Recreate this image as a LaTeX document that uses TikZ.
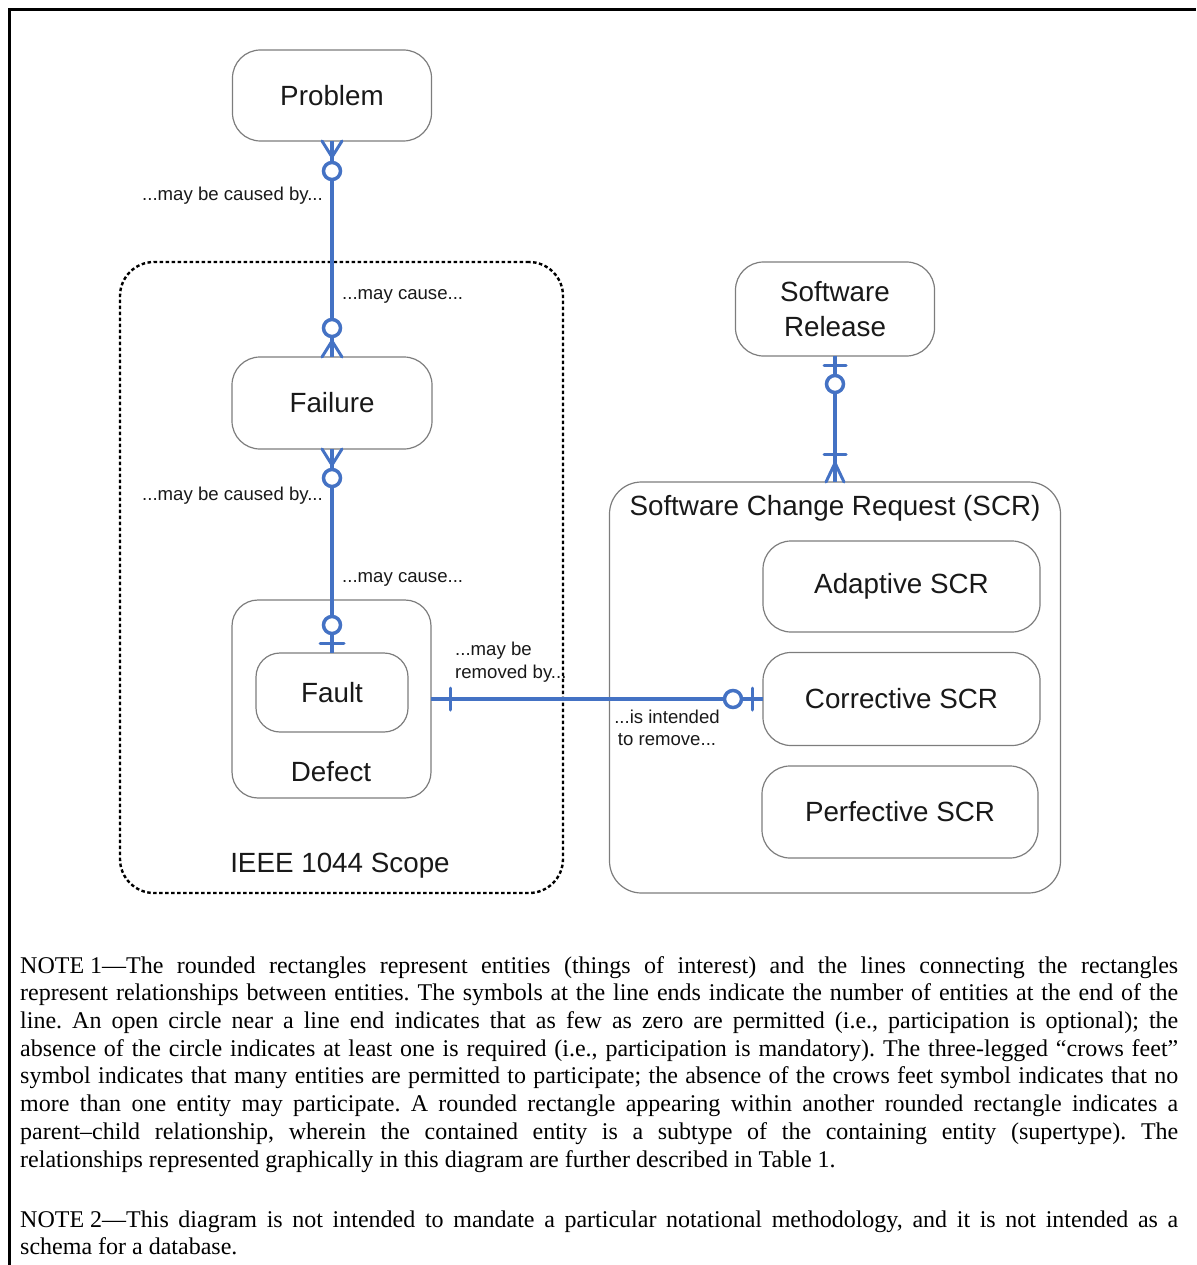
\documentclass[tikz,border=0pt]{standalone}
\usepackage{fontspec}
\setmainfont{Liberation Serif}
\newfontfamily\diagfont{Liberation Sans}
\usetikzlibrary{calc}
\definecolor{relblue}{RGB}{68,114,196}
\definecolor{boxgray}{RGB}{125,125,125}
\definecolor{inkc}{RGB}{25,25,25}

\begin{document}
\begin{tikzpicture}[x=1pt,y=-1pt,
  entity/.style={draw=boxgray, line width=1.2pt, rounded corners=28pt, inner sep=0pt, outer sep=0pt,
    font=\diagfont\fontsize{27.8}{35}\selectfont, text=inkc, align=center},
  container/.style={draw=boxgray, line width=1.2pt, rounded corners=32pt, inner sep=0pt, outer sep=0pt},
  scopebox/.style={draw=black, line width=2.4pt, dash pattern=on 3.5pt off 2.5pt, rounded corners=34pt,
    inner sep=0pt, outer sep=0pt},
  boxlabel/.style={font=\diagfont\fontsize{27.8}{35}\selectfont, text=inkc, inner sep=0pt},
  rolelabel/.style={font=\diagfont\fontsize{18.6}{22.5}\selectfont, text=inkc, inner sep=0pt},
  rel/.style={draw=relblue, line width=3.5pt},
  prong/.style={draw=relblue, line width=3pt, line cap=round, line join=round},
  ring/.style={draw=relblue, line width=3.5pt, fill=white},
  notetext/.style={anchor=north west, inner sep=0pt, text width=1158pt, align=justify},
]
\useasboundingbox (0,0) rectangle (1196,1265);

% page frame (left and top rules)
\draw[line width=2.7pt] (9.7,1265) -- (9.7,9.7) -- (1196,9.7);

% scope and container boxes
\node[scopebox, minimum width=443pt, minimum height=631pt] (scope) at (341.5,577.5) {};
\node[boxlabel] (scopelbl) at (340,866) {IEEE 1044 Scope};

\node[container, minimum width=451pt, minimum height=411pt] (scr) at (835,687.5) {};
\node[boxlabel] (scrlbl) at (835,508) {Software Change Request (SCR)};

% entities
\node[entity, minimum width=199pt, minimum height=91pt] (problem) at (332,95.5) {Problem};
\node[entity, minimum width=200pt, minimum height=92pt] (failure) at (332,403) {Failure};
\node[container, rounded corners=26pt, minimum width=199pt, minimum height=198pt] (defect) at (331.5,699) {};
\node[boxlabel] (defectlbl) at (331,772) {Defect};
\node[entity, rounded corners=24pt, minimum width=152pt, minimum height=79pt] (fault) at (332,692.5) {Fault};
\node[entity, minimum width=199pt, minimum height=94pt] (release) at (835,309) {Software\\Release};
\node[entity, minimum width=277pt, minimum height=91pt] (adaptive) at (901.5,586.5) {Adaptive SCR};
\node[entity, minimum width=277pt, minimum height=93pt] (corrective) at (901.5,699) {Corrective SCR};
\node[entity, minimum width=276pt, minimum height=92pt] (perfective) at (900,812) {Perfective SCR};

% relationship lines
\draw[rel] (problem.south) -- (failure.north);
\draw[rel] (failure.south) -- (fault.north);
\draw[rel] (release.south) -- (scr.north);
\draw[rel] (defect.east) -- (corrective.west);

% Problem end: zero or many
\draw[prong] ($(problem.south)+(-10,0)$) -- ($(problem.south)+(0,16)$) -- ($(problem.south)+(10,0)$);
\draw[ring] ($(problem.south)+(0,30)$) circle[radius=8.5pt];
% Failure end (upper): zero or many
\draw[prong] ($(failure.north)+(-10,0)$) -- ($(failure.north)+(0,-16)$) -- ($(failure.north)+(10,0)$);
\draw[ring] ($(failure.north)+(0,-29)$) circle[radius=8.5pt];
% Failure end (lower): zero or many
\draw[prong] ($(failure.south)+(-10,0)$) -- ($(failure.south)+(0,16)$) -- ($(failure.south)+(10,0)$);
\draw[ring] ($(failure.south)+(0,29)$) circle[radius=8.5pt];
% Fault end: zero or one
\draw[ring] ($(fault.north)+(0,-28)$) circle[radius=8.5pt];
\draw[prong] ($(fault.north)+(-12,-10)$) -- ($(fault.north)+(12,-10)$);
% Software Release end: zero or one
\draw[prong] ($(release.south)+(-11,9)$) -- ($(release.south)+(11,9)$);
\draw[ring] ($(release.south)+(0,28)$) circle[radius=8.5pt];
% SCR end: one or many
\draw[prong] ($(scr.north)+(-11,-28)$) -- ($(scr.north)+(11,-28)$);
\draw[prong] ($(scr.north)+(-9,0)$) -- ($(scr.north)+(0,-19)$) -- ($(scr.north)+(9,0)$);
% Defect end: exactly one
\draw[prong] ($(defect.east)+(19,-11)$) -- ($(defect.east)+(19,11)$);
% Corrective SCR end: zero or one
\draw[prong] ($(corrective.west)+(-11,-11)$) -- ($(corrective.west)+(-11,11)$);
\draw[ring] ($(corrective.west)+(-30,0)$) circle[radius=8.5pt];

% role labels
\node[rolelabel, anchor=east] (r1) at (323,196) {...may be caused by...};
\node[rolelabel, anchor=west] (r2) at (342,296) {...may cause...};
\node[rolelabel, anchor=east] (r3) at (323,496) {...may be caused by...};
\node[rolelabel, anchor=west] (r4) at (342,579) {...may cause...};
\node[rolelabel, anchor=west, align=left] (r5) at (455,662) {...may be\\removed by...};
\node[rolelabel, align=center] (r6) at (667,728) {...is intended\\to remove...};

% explanatory notes
\node[notetext] (note1) at (20,956) {\fontsize{24}{27.7}\selectfont\frenchspacing\spaceskip=0.25em plus 2em minus 0.05em
\mbox{NOTE 1}—The rounded rectangles represent entities (things of interest) and the lines connecting the rectangles\linebreak
represent relationships between entities. The symbols at the line ends indicate the number of entities at the end of the\linebreak
line. An open circle near a line end indicates that as few as zero are permitted (i.e., participation is optional); the\linebreak
absence of the circle indicates at least one is required (i.e., participation is mandatory). The three-legged “crows feet”\linebreak
symbol indicates that many entities are permitted to participate; the absence of the crows feet symbol indicates that no\linebreak
more than one entity may participate. A rounded rectangle appearing within another rounded rectangle indicates a\linebreak
parent–child relationship, wherein the contained entity is a subtype of the containing entity (supertype). The\linebreak
relationships represented graphically in this diagram are further described in Table 1.\par};
\node[notetext] (note2) at (20,1211) {\fontsize{24}{26.5}\selectfont\frenchspacing\spaceskip=0.25em plus 2em minus 0.05em
\mbox{NOTE 2}—This diagram is not intended to mandate a particular notational methodology, and it is not intended as a\linebreak
schema for a database.\par};
\end{tikzpicture}
\end{document}
